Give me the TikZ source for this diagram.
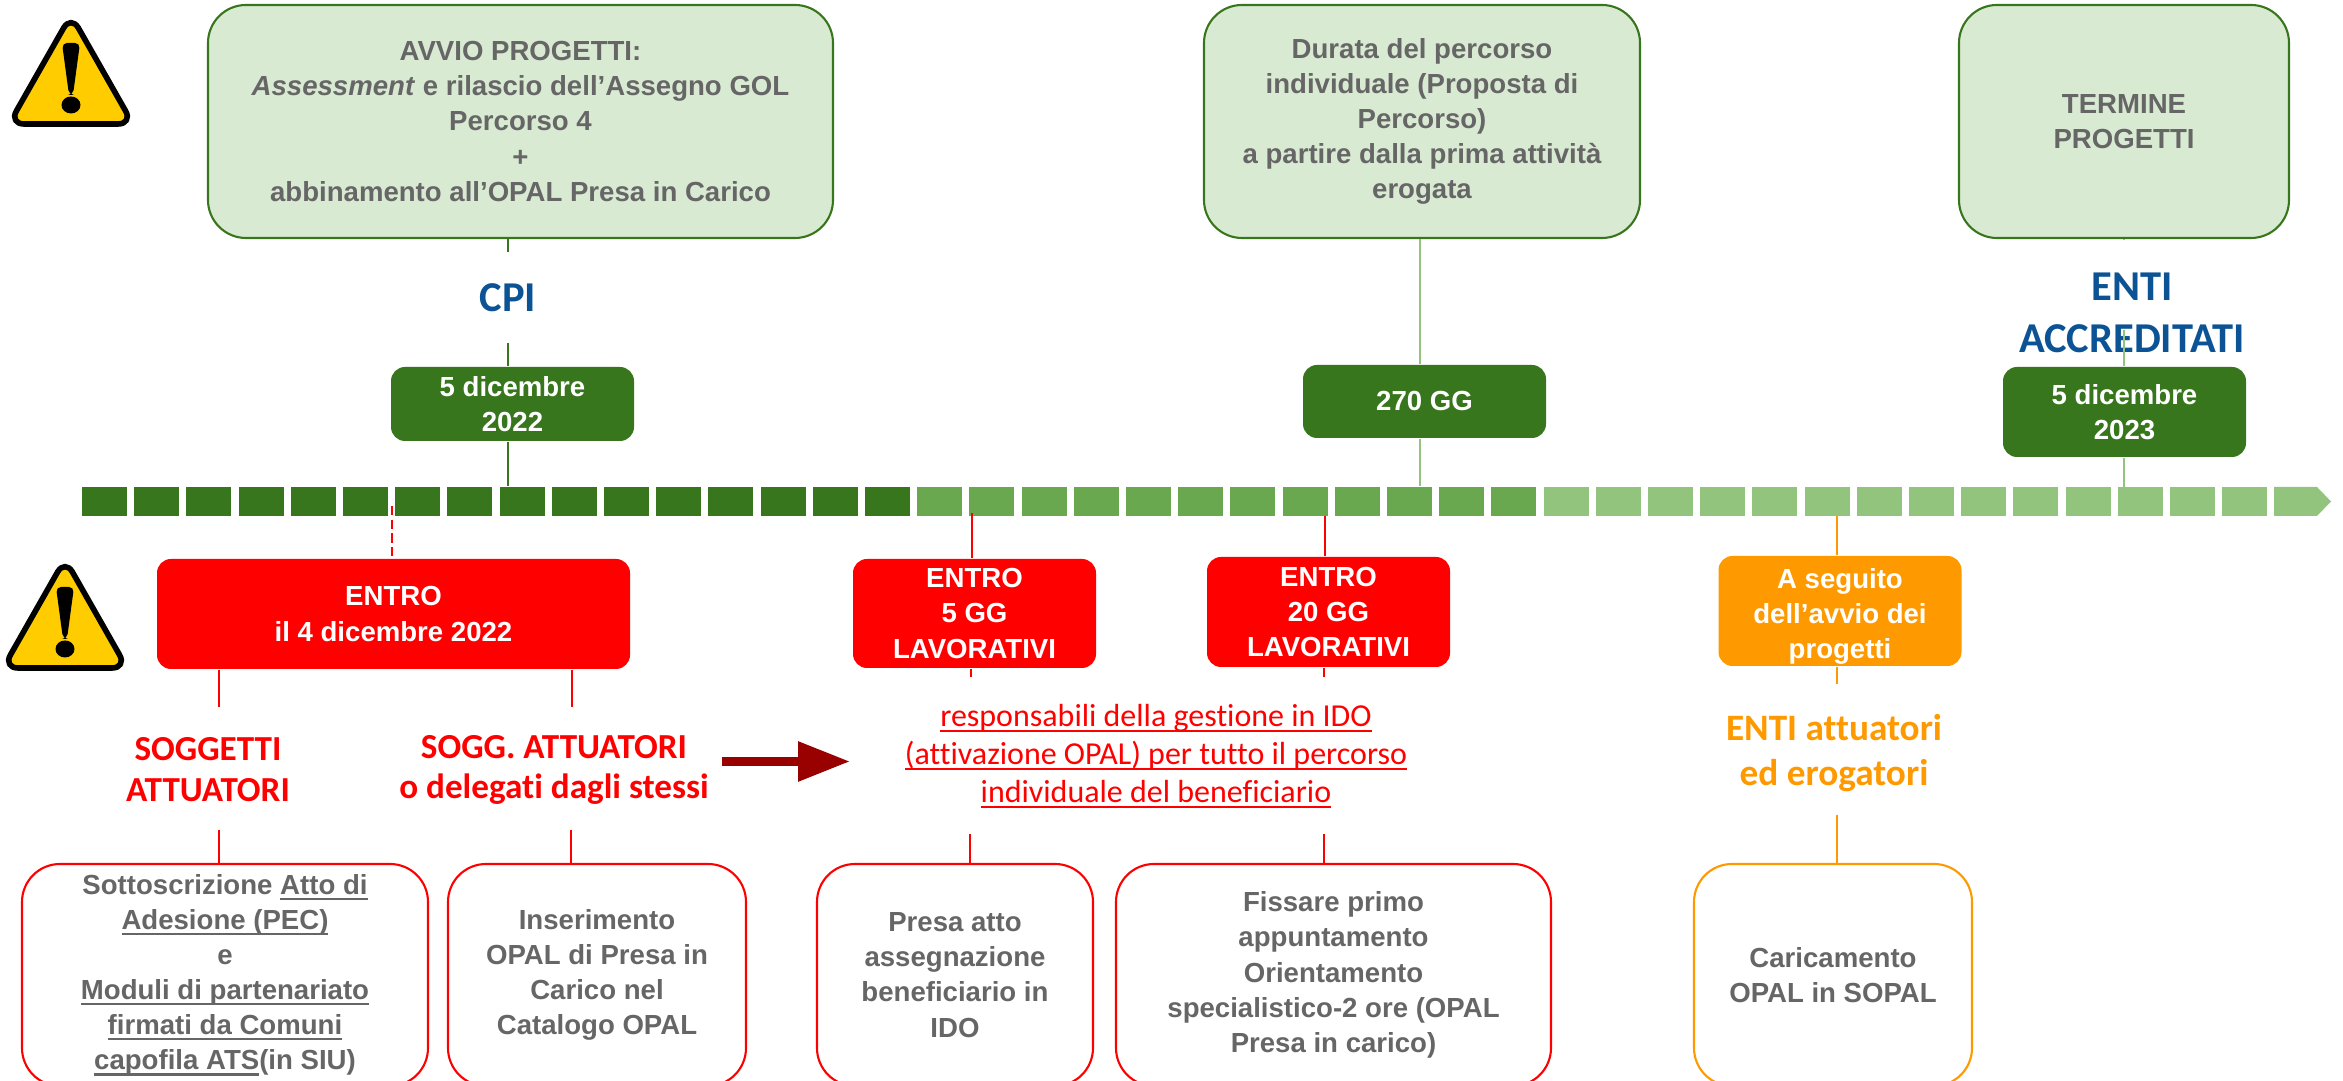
\documentclass[tikz,border=0pt]{standalone}
\usepackage{fontspec}
\setmainfont{Liberation Sans}
\newfontfamily\carlito[Ligatures=NoCommon]{Carlito}
\usetikzlibrary{arrows.meta}

\definecolor{segdark}{HTML}{38761D}
\definecolor{segmid}{HTML}{6AA84F}
\definecolor{seglight}{HTML}{93C47D}
\definecolor{paleg}{HTML}{D9EAD3}
\definecolor{txtgray}{HTML}{666666}
\definecolor{enteblue}{HTML}{0B5394}
\definecolor{orng}{HTML}{FF9900}
\definecolor{darkred}{HTML}{990000}
\definecolor{warnyellow}{HTML}{FFCC00}

\newcommand{\sotto}[1]{\leavevmode\setbox0\hbox{#1}\rlap{\rule[-1.6pt]{\wd0}{0.65pt}}\box0}

\tikzset{
  seg/.style={minimum width=0.45cm, minimum height=0.29cm, inner sep=0},
  body/.style={align=center, inner sep=0, font=\fontsize{7.85}{10}\selectfont\bfseries},
  topbox/.style={body, draw=segdark, fill=paleg, line width=0.6pt, rounded corners=0.38cm, text=txtgray, minimum height=2.33cm},
  lowbox/.style={body, fill=white, line width=0.6pt, rounded corners=0.38cm, text=txtgray, minimum height=2.22cm},
  tagbox/.style={body, rounded corners=0.14cm, text=white},
  bigtxt/.style={align=center, inner sep=0, font=\carlito\fontsize{10}{11.6}\selectfont\bfseries},
  huge txt/.style={align=center, inner sep=0, text=enteblue, font=\carlito\fontsize{12.1}{14.8}\selectfont\bfseries},
  warnsign/.pic={
    \draw[line width=1.6pt, fill=warnyellow, rounded corners=0.15cm, line join=round] (0.58,-0.06) -- (1.2,1.03) -- (-0.04,1.03) -- cycle;
    \fill[rounded corners=0.05cm] (0.49,0.22) -- (0.67,0.22) -- (0.6,0.74) -- (0.56,0.74) -- cycle;
    \fill (0.58,0.84) ellipse (0.095 and 0.085);
  },
}

\begin{document}
\begin{tikzpicture}[y=-1cm]
  \useasboundingbox (0,0) rectangle (23.43,10.81);
  \clip (0,0) rectangle (23.43,10.81);

  % Timeline
  \foreach \a/\b/\col in {0/15/segdark, 16/27/segmid, 28/41/seglight} {
    \foreach \i in {\a,...,\b} {
      \node[seg, fill=\col] (s\i) at ({1.045+0.522*\i},5.015) {};
    }
  }
  \fill[seglight] (22.74,4.87) -- (23.17,4.87) -- (23.31,5.015) -- (23.17,5.16) -- (22.74,5.16) -- cycle;

  % Warning signs
  \pic at (0.13,0.21) {warnsign};
  \pic at (0.07,5.65) {warnsign};

  % Boxes above the line
  \node[topbox, minimum width=6.25cm] (avvio) at (5.205,1.215) {AVVIO PROGETTI:\\ \textit{Assessment} e rilascio dell’Assegno GOL\\ Percorso 4\\ +\\ abbinamento all’OPAL Presa in Carico};
  \node[topbox, minimum width=4.36cm] (durata) at (14.22,1.215) {Durata del percorso\\ individuale (Proposta di\\ Percorso)\\ a partire dalla prima attività\\ erogata};
  \node[topbox, minimum width=3.30cm] (termine) at (21.24,1.215) {TERMINE\\ PROGETTI};

  % Date boxes
  \node[tagbox, fill=segdark, minimum width=2.43cm, minimum height=0.74cm] (dateA) at (5.125,4.04) {5 dicembre\\ 2022};
  \node[tagbox, fill=segdark, minimum width=2.43cm, minimum height=0.73cm] (giorni) at (14.245,4.015) {270 GG};
  \node[tagbox, fill=segdark, minimum width=2.43cm, minimum height=0.90cm] (dateB) at (21.245,4.12) {5 dicembre\\ 2023};

  % Deadlines below the line
  \node[tagbox, fill=red, minimum width=4.73cm, minimum height=1.10cm] (entroA) at (3.935,6.14) {ENTRO\\ il 4 dicembre 2022};
  \node[tagbox, fill=red, minimum width=2.43cm, minimum height=1.09cm] (entroB) at (9.745,6.135) {ENTRO\\ 5 GG\\ LAVORATIVI};
  \node[tagbox, fill=red, minimum width=2.43cm, minimum height=1.10cm] (entroC) at (13.285,6.12) {ENTRO\\ 20 GG\\ LAVORATIVI};
  \node[tagbox, fill=orng, minimum width=2.43cm, minimum height=1.10cm] (seguito) at (18.40,6.11) {\rule{0pt}{8.7pt}A seguito\\ dell’avvio dei\\ progetti};

  % Actors
  \node[huge txt] (cpi) at (5.08,2.98) {CPI};
  \node[huge txt] (enti) at (21.32,3.13) {ENTI\\ ACCREDITATI};
  \node[bigtxt, text=red] (sogg) at (2.08,7.70) {SOGGETTI\\ ATTUATORI};
  \node[bigtxt, text=red] (delegati) at (5.54,7.70) {SOGG. ATTUATORI\\ o delegati dagli stessi};
  \node[align=center, inner sep=0, text=red, font=\carlito\fontsize{9.1}{10.8}\selectfont] (resp) at (11.56,7.56) {\sotto{responsabili della gestione in IDO}\\ \sotto{(attivazione OPAL) per tutto il percorso}\\ \sotto{individuale del beneficiario}};
  \node[bigtxt, text=orng, font=\carlito\fontsize{10.6}{12.8}\selectfont\bfseries] (attuatori) at (18.34,7.53) {ENTI attuatori\\ ed erogatori};

  % Boxes at the bottom, cut by the page edge
  \node[lowbox, draw=red, minimum width=4.06cm] (adesione) at (2.25,9.75) {Sottoscrizione \sotto{Atto di}\\ \sotto{Adesione (PEC)}\\ e\\ \sotto{Moduli di partenariato}\\ \sotto{firmati da Comuni}\\ \sotto{capofila ATS}(in SIU)};
  \node[lowbox, draw=red, minimum width=2.98cm] (inserimento) at (5.97,9.75) {Inserimento\\ OPAL di Presa in\\ Carico nel\\ Catalogo OPAL};
  \node[lowbox, draw=red, minimum width=2.76cm] (presa) at (9.55,9.75) {Presa atto\\ assegnazione\\ beneficiario in\\ IDO};
  \node[lowbox, draw=red, minimum width=4.35cm] (fissare) at (13.335,9.75) {Fissare primo\\ appuntamento\\ Orientamento\\ specialistico-2 ore (OPAL\\ Presa in carico)};
  \node[lowbox, draw=orng, minimum width=2.78cm] (caricamento) at (18.33,9.75) {Caricamento\\ OPAL in SOPAL};

  % Free ends of the connectors
  \coordinate (c1) at (5.08,2.52);
  \coordinate (c2) at (5.08,3.43);
  \coordinate (c3) at (14.20,3.00);
  \coordinate (c4) at (21.24,2.40);
  \coordinate (c5) at (21.24,3.30);
  \coordinate (c6) at (21.24,5.16);
  \coordinate (r0) at (3.92,5.06);
  \coordinate (r1) at (2.19,7.07);
  \coordinate (r2) at (5.72,7.07);
  \coordinate (r3) at (2.19,8.30);
  \coordinate (r4) at (5.71,8.30);
  \coordinate (r5) at (9.72,5.13);
  \coordinate (r6) at (13.25,5.16);
  \coordinate (r7) at (9.71,6.77);
  \coordinate (r8) at (13.24,6.77);
  \coordinate (r9) at (9.70,8.34);
  \coordinate (r10) at (13.24,8.34);
  \coordinate (o1) at (18.37,5.16);
  \coordinate (o2) at (18.37,6.84);
  \coordinate (o3) at (18.37,8.15);
  \coordinate (a1) at (7.215,7.615);
  \coordinate (a2) at (8.50,7.615);

  % Green connectors
  \draw[segdark, line width=0.6pt] (c1 |- avvio.south) -- (c1);
  \draw[segdark, line width=0.6pt] (c2) -- (c2 |- dateA.north);
  \draw[segdark, line width=0.6pt] (c2 |- dateA.south) -- (c2 |- s8.north);
  \draw[seglight, line width=0.6pt] (c3 |- durata.south) -- (c3 |- giorni.north);
  \draw[seglight, line width=0.6pt] (c3 |- giorni.south) -- (c3 |- s25.north);
  \draw[seglight, line width=0.6pt] (c4 |- termine.south) -- (c4);
  \draw[seglight, line width=0.6pt] (c5) -- (c5 |- dateB.north);
  \draw[seglight, line width=0.6pt] (c6 |- dateB.south) -- (c6);

  % Red and orange connectors
  \draw[red, line width=0.6pt, dash pattern=on 2.6pt off 1.3pt] (r0) -- (r0 |- entroA.north);
  \draw[red, line width=0.6pt] (r1 |- entroA.south) -- (r1);
  \draw[red, line width=0.6pt] (r2 |- entroA.south) -- (r2);
  \draw[red, line width=0.6pt] (r3) -- (r3 |- adesione.north);
  \draw[red, line width=0.6pt] (r4) -- (r4 |- inserimento.north);
  \draw[red, line width=0.6pt] (r5) -- (r5 |- entroB.north);
  \draw[red, line width=0.6pt] (r6) -- (r6 |- entroC.north);
  \draw[red, line width=0.6pt] (r7 |- entroB.south) -- (r7);
  \draw[red, line width=0.6pt] (r8 |- entroC.south) -- (r8);
  \draw[red, line width=0.6pt] (r9) -- (r9 |- presa.north);
  \draw[red, line width=0.6pt] (r10) -- (r10 |- fissare.north);
  \draw[orng, line width=0.6pt] (o1) -- (o1 |- seguito.north);
  \draw[orng, line width=0.6pt] (o2 |- seguito.south) -- (o2);
  \draw[orng, line width=0.6pt] (o3) -- (o3 |- caricamento.north);

  % Arrow towards the note
  \draw[-{Triangle[length=0.52cm, width=0.38cm]}, darkred, line width=0.09cm] (a1) -- (a2);

\end{tikzpicture}
\end{document}
